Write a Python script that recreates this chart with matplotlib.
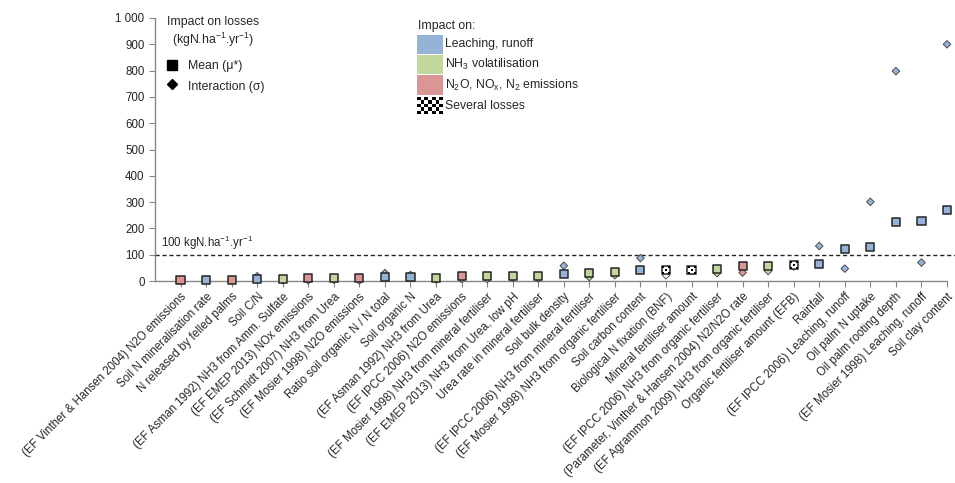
import numpy as np
import matplotlib
matplotlib.use("Agg")
import matplotlib.pyplot as plt
from matplotlib import font_manager
from matplotlib.path import Path
from matplotlib.patches import Rectangle
from matplotlib.ticker import FuncFormatter

# ── data ──────────────────────────────────────────────────────────────────────
labels = [
    "(EF Vinther & Hansen 2004) N2O emissions",
    "Soil N mineralisation rate",
    "N released by felled palms",
    "Soil C/N",
    "(EF Asman 1992) NH3 from Amm. Sulfate",
    "(EF EMEP 2013) NOx emissions",
    "(EF Schmidt 2007) NH3 from Urea",
    "(EF Mosier 1998) N2O emissions",
    "Ratio soil organic N / N total",
    "Soil organic N",
    "(EF Asman 1992) NH3 from Urea",
    "(EF IPCC 2006) N2O emissions",
    "(EF Mosier 1998) NH3 from mineral fertiliser",
    "(EF EMEP 2013) NH3 from Urea, low pH",
    "Urea rate in mineral fertiliser",
    "Soil bulk density",
    "(EF IPCC 2006) NH3 from mineral fertiliser",
    "(EF Mosier 1998) NH3 from organic fertiliser",
    "Soil carbon content",
    "Biological N fixation (BNF)",
    "Mineral fertiliser amount",
    "(EF IPCC 2006) NH3 from organic fertiliser",
    "(Parameter, Vinther & Hansen 2004) N2/N2O rate",
    "(EF Agrammon 2009) NH3 from organic fertiliser",
    "Organic fertiliser amount (EFB)",
    "Rainfall",
    "(EF IPCC 2006) Leaching, runoff",
    "Oil palm N uptake",
    "Oil palm rooting depth",
    "(EF Mosier 1998) Leaching, runoff",
    "Soil clay content",
]
mean_mu = [3, 4, 4, 7, 7, 11, 10, 12, 16, 16, 12, 18, 20, 19, 20, 26,
           30, 35, 42, 42, 42, 45, 57, 57, 62, 63, 120, 130, 225, 227, 270]
sigma = [1, 5, 2, 18, 3, 3, 5, 2, 30, 23, 6, 8, 8, 12, 10, 58,
         15, 22, 87, 22, 38, 30, 32, 38, 55, 133, 47, 301, 798, 70, 900]
group = ["n2o", "leach", "n2o", "leach", "nh3", "n2o", "nh3", "n2o", "leach",
         "leach", "nh3", "n2o", "nh3", "nh3", "nh3", "leach", "nh3", "nh3",
         "leach", "several", "several", "nh3", "n2o", "nh3", "several",
         "leach", "leach", "leach", "leach", "leach", "leach"]
threshold = 100

colors = {"leach": "#95B3D7", "nh3": "#C3D69B", "n2o": "#D99694",
          "several": "#FFFFFF"}

# ── fonts ─────────────────────────────────────────────────────────────────────
names = {f.name for f in font_manager.fontManager.ttflist}
fam = "Liberation Sans Narrow" if "Liberation Sans Narrow" in names else "Liberation Sans"
plt.rcParams["font.family"] = [fam, "DejaVu Sans"]
plt.rcParams["mathtext.fontset"] = "custom"
plt.rcParams["mathtext.rm"] = fam
plt.rcParams["mathtext.default"] = "regular"
fs = 9.5 if fam.endswith("Narrow") else 8.3

W, H = 955, 483
fig = plt.figure(figsize=(W / 100, H / 100), dpi=100)
ax = fig.add_axes([155 / W, 1 - 281 / H, (947 - 155) / W, (281 - 18) / H])

x = np.arange(len(labels))
cols = [colors[g] for g in group]
edge = "#262626"

# checker marker: small black cells at corners and centre
cells = []
c = 0.55
for cx, cy in [(-1, -1), (1, -1), (0, 0), (-1, 1), (1, 1)]:
    x0, y0 = cx * 2 / 3 - c / 2, cy * 2 / 3 - c / 2
    cells.append(Path([(x0, y0), (x0 + c, y0), (x0 + c, y0 + c),
                       (x0, y0 + c), (x0, y0)], closed=True))
cells.append(Path([(-1, -1), (-1, -1.0001)]))  # keep the full extent
cells.append(Path([(1, 1), (1, 1.0001)]))
checker = Path.make_compound_path(*cells)

ax.scatter(x, sigma, marker="D", s=15, c=cols, edgecolors="#3a3a3a",
           linewidths=0.6, zorder=3, clip_on=False)
ax.scatter(x, mean_mu, marker="s", s=34, c=cols, edgecolors=edge,
           linewidths=1.1, zorder=4, clip_on=False)
sev = [i for i, g in enumerate(group) if g == "several"]
ax.scatter(x[sev], np.array(mean_mu)[sev], marker=checker, s=34, c="black",
           linewidths=0, zorder=5, clip_on=False)

ax.plot([-1, len(labels) - 0.7], [threshold, threshold], color="#262626",
        ls=(0, (3, 2)), lw=1.0, zorder=2, clip_on=False)
ax.text(-0.75, threshold + 12, "100 kgN.ha$^{-1}$.yr$^{-1}$", fontsize=fs,
        color="#262626", va="bottom", ha="left")

ax.set_xlim(-1, len(labels) - 1)
ax.set_ylim(0, 1000)
ax.set_yticks(np.arange(0, 1001, 100))
ax.yaxis.set_major_formatter(FuncFormatter(lambda v, p: f"{int(v):,}".replace(",", " ")))
ax.set_xticks(x)
ax.set_xticklabels(labels, rotation=45, ha="right", rotation_mode="anchor",
                   fontsize=fs, color="#262626")
ax.tick_params(axis="y", labelsize=fs, colors="#262626", length=4,
               color="#868686", direction="out")
ax.tick_params(axis="x", length=4, color="#868686", direction="out", pad=3)
for s in ["top", "right"]:
    ax.spines[s].set_visible(False)
for s in ["left", "bottom"]:
    ax.spines[s].set_color("#868686")
    ax.spines[s].set_linewidth(1.0)

# ── legends (drawn in figure pixels) ─────────────────────────────────────────
def fx(px):
    return px / W


def fy(py):
    return 1 - py / H


tc = "#262626"
fig.text(fx(213), fy(22), "Impact on losses", fontsize=fs + 0.5, ha="center",
         va="center", color=tc)
fig.text(fx(213), fy(40), "(kgN.ha$^{-1}$.yr$^{-1}$)", fontsize=fs + 0.5,
         ha="center", va="center", color=tc)
fig.lines.append(plt.Line2D([fx(172)], [fy(65)], marker="s", ms=7, color="black",
                            transform=fig.transFigure))
fig.lines.append(plt.Line2D([fx(172)], [fy(84)], marker="D", ms=5.5, color="black",
                            transform=fig.transFigure))
fig.text(fx(188), fy(66), "Mean (μ*)", fontsize=fs + 0.5, va="center", color=tc)
fig.text(fx(188), fy(87), "Interaction (σ)", fontsize=fs + 0.5, va="center",
         color=tc)

fig.text(fx(418), fy(26), "Impact on:", fontsize=fs + 0.5, va="center", color=tc)
leg_items = [("leach", "Leaching, runoff", 35, 54),
             ("nh3", "NH$_3$ volatilisation", 55, 74),
             ("n2o", "N$_2$O, NO$_x$, N$_2$ emissions", 75, 95)]
for key, txt, y0, y1 in leg_items:
    fig.patches.append(Rectangle((fx(417), fy(y1)), fx(443) - fx(417),
                                 fy(y0) - fy(y1), facecolor=colors[key],
                                 edgecolor="none", transform=fig.transFigure))
    fig.text(fx(445), fy((y0 + y1) / 2), txt, fontsize=fs + 0.5, va="center",
             color=tc)
cax = fig.add_axes([fx(417), fy(114), fx(443) - fx(417), fy(97) - fy(114)])
board = (np.add.outer(np.arange(5), np.arange(7)) % 2).astype(float)
cax.imshow(board, cmap="gray", interpolation="nearest", aspect="auto")
cax.set_axis_off()
fig.text(fx(445), fy(106), "Several losses", fontsize=fs + 0.5, va="center",
         color=tc)

fig.savefig("out.png", dpi=100)
